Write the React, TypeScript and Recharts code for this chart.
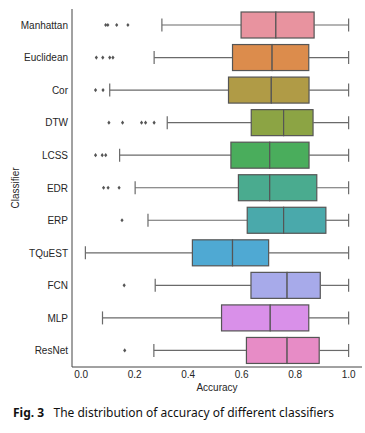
import { ComposedChart, Bar, XAxis, YAxis } from 'recharts';

const classifiers = ['Manhattan', 'Euclidean', 'Cor', 'DTW', 'LCSS', 'EDR', 'ERP', 'TQuEST', 'FCN', 'MLP', 'ResNet'];
const whiskerLow = [0.302, 0.273, 0.107, 0.322, 0.144, 0.202, 0.25, 0.016, 0.277, 0.08, 0.272];
const q1 = [0.598, 0.566, 0.551, 0.636, 0.56, 0.588, 0.621, 0.416, 0.635, 0.525, 0.618];
const median = [0.728, 0.714, 0.711, 0.757, 0.705, 0.705, 0.757, 0.566, 0.77, 0.707, 0.77];
const q3 = [0.871, 0.851, 0.852, 0.867, 0.852, 0.881, 0.915, 0.701, 0.894, 0.851, 0.89];
const whiskerHigh = [1.0, 1.0, 1.0, 1.0, 1.0, 1.0, 1.0, 1.0, 1.0, 1.0, 1.0];
const outliers = [
  [0.092, 0.1, 0.133, 0.175],
  [0.057, 0.081, 0.107, 0.119],
  [0.054, 0.082],
  [0.104, 0.155, 0.226, 0.241, 0.273],
  [0.054, 0.079, 0.092],
  [0.084, 0.101, 0.142],
  [0.153],
  [],
  [0.161],
  [],
  [0.163],
];
const boxColors = ['#e8939f', '#dc8c4c', '#b09b46', '#8ca444', '#4aad5c', '#4aab8f', '#4aa9ab', '#4fa9d3', '#a7aaea', '#d990e9', '#e78cc6'];
const xTicks = [0, 0.2, 0.4, 0.6, 0.8, 1.0];

const rows = classifiers.map((name, i) => ({
  name,
  base: whiskerLow[i],
  lw: q1[i] - whiskerLow[i],
  lb: median[i] - q1[i],
  ub: q3[i] - median[i],
  uw: whiskerHigh[i] - q3[i],
  min: whiskerLow[i],
  outliers: outliers[i],
  color: boxColors[i],
}));

const LINE = '#6a6a6a';
const EDGE = '#555555';

// outliers sit left of the low whisker, inside the invisible base bar (0..min)
const OutlierShape = (p: any) => {
  const { x, y, width, height, payload } = p;
  const cy = y + height / 2;
  return (
    <g>
      {payload.outliers.map((o: number, k: number) => {
        const cx = x + (width * o) / payload.min;
        const r = 1.6;
        return <path key={k} d={`M${cx},${cy - r * 1.3}L${cx + r},${cy}L${cx},${cy + r * 1.3}L${cx - r},${cy}Z`} fill="#555" />;
      })}
    </g>
  );
};

const LowWhisker = (p: any) => {
  const { x, y, width, height } = p;
  const cy = y + height / 2;
  return (
    <g>
      <line x1={x} x2={x + width} y1={cy} y2={cy} stroke={LINE} strokeWidth={1.2} />
      <line x1={x} x2={x} y1={cy - height / 4} y2={cy + height / 4} stroke={LINE} strokeWidth={1.2} />
    </g>
  );
};

const HighWhisker = (p: any) => {
  const { x, y, width, height } = p;
  const cy = y + height / 2;
  return (
    <g>
      <line x1={x} x2={x + width} y1={cy} y2={cy} stroke={LINE} strokeWidth={1.2} />
      <line x1={x + width} x2={x + width} y1={cy - height / 4} y2={cy + height / 4} stroke={LINE} strokeWidth={1.2} />
    </g>
  );
};

const BoxHalf = (p: any) => {
  const { x, y, width, height, payload } = p;
  return <rect x={x} y={y} width={width} height={height} fill={payload.color} stroke={EDGE} strokeWidth={1.2} />;
};

const tickFont = { fontFamily: '"Liberation Sans", Arial, sans-serif', fontSize: 10, fill: '#262626' };

export default function App() {
  return (
    <div style={{ position: 'absolute', left: 0, top: 0, width: 365, height: 433, background: '#fff' }}>
      <ComposedChart
        width={365}
        height={400}
        data={rows}
        layout="vertical"
        margin={{ top: 9, right: 3, bottom: 0, left: 0 }}
        barSize={26}
      >
        <XAxis
          type="number"
          domain={[-0.034, 1.05]}
          ticks={xTicks}
          allowDataOverflow
          tickFormatter={(v: number) => v.toFixed(1)}
          tickLine={false}
          tickSize={3}
          tickMargin={1}
          height={33}
          stroke="#444"
          tick={tickFont}
          label={{ value: 'Accuracy', position: 'insideBottom', offset: 9, style: tickFont }}
        />
        <YAxis
          type="category"
          dataKey="name"
          width={72}
          tickLine={false}
          tickSize={3}
          tickMargin={1}
          stroke="#444"
          tick={tickFont}
          label={({ viewBox }: any) => (
            <text
              x={15}
              y={viewBox.y + viewBox.height / 2}
              transform={`rotate(-90 15 ${viewBox.y + viewBox.height / 2})`}
              textAnchor="middle"
              dominantBaseline="central"
              style={tickFont}
              fill="#262626"
            >
              Classifier
            </text>
          )}
        />
        <Bar dataKey="base" stackId="a" shape={OutlierShape} isAnimationActive={false} />
        <Bar dataKey="lw" stackId="a" shape={LowWhisker} isAnimationActive={false} />
        <Bar dataKey="lb" stackId="a" shape={BoxHalf} isAnimationActive={false} />
        <Bar dataKey="ub" stackId="a" shape={BoxHalf} isAnimationActive={false} />
        <Bar dataKey="uw" stackId="a" shape={HighWhisker} isAnimationActive={false} />
      </ComposedChart>
      <div
        style={{
          position: 'absolute',
          left: 13,
          top: 404,
          fontFamily: '"Noto Sans", sans-serif',
          fontSize: 12,
          color: '#111',
          whiteSpace: 'nowrap',
        }}
      >
        <b>Fig. 3</b>&nbsp;&nbsp; The distribution of accuracy of different classifiers
      </div>
    </div>
  );
}
